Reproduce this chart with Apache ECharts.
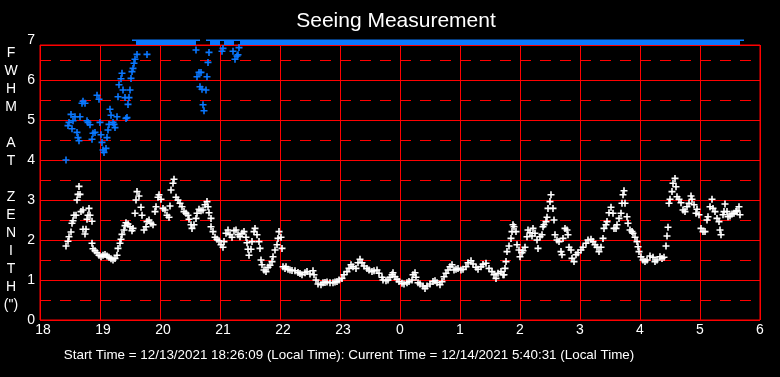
<!DOCTYPE html>
<html>
<head>
<meta charset="utf-8">
<title>Seeing Measurement</title>
<script src="https://cdn.jsdelivr.net/npm/echarts@6/dist/echarts.min.js"></script>
<style>
    html, body { margin: 0; padding: 0; background: #000; }
    #chart { width: 780px; height: 377px; }
</style>
</head>
<body>
<div id="chart"></div>
<script>
// x = minutes after 18:00 local time, y = FWHM (arcsec)
var hourLabels = ['18', '19', '20', '21', '22', '23', '0', '1', '2', '3', '4', '5', '6'];
var yLabels = ['0', '1', '2', '3', '4', '5', '6', '7'];
var capValue = 7;

// white crosses
var seeing = [
    [26,1.85],[28,1.97],[29,2.08],[31,2.2],[32,2.42],[33,2.48],[34,2.62],[36,2.62],[37,3.0],[38,3.14],
    [39,3.34],[40,3.14],[41,2.71],[43,2.75],[43,2.27],[45,2.15],[46,2.27],[47,2.52],[48,2.62],[49,2.79],
    [50,2.62],[52,2.47],[52,1.92],[53,1.78],[55,1.73],[57,1.68],[59,1.62],[61,1.58],[63,1.62],[65,1.64],
    [67,1.6],[69,1.57],[71,1.53],[73,1.5],[75,1.54],[77,1.62],[78,1.79],[80,1.92],[81,2.02],[82,2.14],
    [84,2.25],[85,2.36],[86,2.43],[88,2.4],[90,2.33],[92,2.23],[93,2.29],[95,2.67],[96,3.0],[97,3.21],
    [99,3.1],[101,2.82],[102,2.62],[104,2.25],[106,2.33],[107,2.46],[109,2.5],[111,2.42],[113,2.38],[115,2.71],
    [116,2.83],[118,3.07],[119,3.13],[121,3.02],[123,2.79],[125,2.75],[127,2.62],[129,2.57],[130,2.85],[131,3.25],
    [133,3.42],[134,3.52],[136,3.07],[138,3.0],[140,2.92],[142,2.83],[144,2.71],[146,2.67],[148,2.62],[149,2.52],
    [151,2.38],[152,2.29],[154,2.38],[156,2.54],[157,2.67],[159,2.77],[161,2.73],[163,2.75],[165,2.88],[167,2.96],
    [168,2.83],[169,2.68],[171,2.54],[171,2.33],[173,2.21],[175,2.07],[177,2.02],[179,1.98],[181,1.88],[183,1.82],
    [184,1.96],[186,2.17],[188,2.25],[190,2.13],[192,2.07],[194,2.23],[196,2.25],[198,2.13],[200,2.08],[202,2.17],
    [204,2.21],[206,2.07],[207,1.93],[208,1.77],[209,1.62],[211,1.77],[212,1.96],[214,2.21],[215,2.29],[217,2.13],
    [219,1.96],[220,1.79],[221,1.5],[222,1.38],[224,1.25],[226,1.21],[228,1.32],[230,1.37],[232,1.46],[233,1.58],
    [235,1.75],[237,1.88],[238,2.04],[239,2.21],[241,2.07],[242,1.79],[243,1.33],[245,1.29],[246,1.33],[248,1.27],
    [250,1.25],[252,1.24],[255,1.23],[258,1.19],[260,1.16],[262,1.13],[265,1.18],[267,1.21],[270,1.15],[273,1.23],
    [274,1.13],[276,1.0],[278,0.9],[281,0.88],[283,0.93],[285,0.94],[287,0.95],[290,0.93],[293,0.93],[295,0.95],
    [297,0.96],[299,1.0],[302,1.04],[304,1.13],[307,1.21],[309,1.29],[311,1.38],[313,1.33],[316,1.29],[318,1.43],
    [320,1.52],[322,1.43],[324,1.35],[327,1.29],[329,1.25],[332,1.21],[334,1.23],[337,1.25],[339,1.17],[342,1.07],
    [343,1.0],[346,0.98],[348,1.0],[350,1.07],[352,1.13],[353,1.18],[355,1.08],[357,1.02],[359,0.96],[362,0.92],
    [364,0.9],[367,0.93],[369,0.96],[372,1.0],[373,1.13],[375,1.18],[376,1.07],[378,0.93],[380,0.9],[383,0.85],
    [385,0.79],[387,0.85],[390,0.9],[393,0.96],[395,0.98],[397,0.93],[400,0.88],[402,0.96],[404,1.08],[406,1.17],
    [408,1.25],[410,1.33],[412,1.38],[414,1.25],[416,1.27],[418,1.29],[421,1.25],[423,1.27],[426,1.33],[428,1.43],
    [431,1.48],[433,1.4],[436,1.32],[438,1.27],[441,1.33],[443,1.39],[446,1.42],[449,1.29],[452,1.21],[454,1.13],
    [456,1.04],[458,1.17],[461,1.21],[463,1.13],[464,1.13],[465,1.29],[466,1.46],[467,1.71],[469,1.85],[471,2.04],
    [472,2.21],[473,2.38],[474,2.33],[476,2.21],[477,1.88],[479,1.75],[480,1.58],[482,1.68],[483,1.73],[485,1.82],
    [487,2.08],[488,2.25],[490,2.18],[492,2.1],[493,2.29],[495,2.17],[497,2.0],[498,1.79],[500,2.08],[502,2.13],
    [503,2.33],[504,2.38],[506,2.46],[507,2.57],[508,2.79],[510,2.96],[511,3.13],[513,2.79],[514,2.5],[515,2.13],
    [517,2.0],[519,1.96],[521,1.71],[522,1.63],[523,2.04],[525,2.29],[527,2.25],[528,2.13],[529,1.82],[531,1.75],
    [532,1.54],[534,1.46],[536,1.63],[538,1.68],[541,1.75],[543,1.82],[546,1.92],[548,2.0],[551,2.02],[553,1.96],
    [555,1.88],[557,1.82],[559,1.71],[561,1.82],[563,2.04],[564,2.29],[566,2.38],[567,2.46],[569,2.68],[571,2.82],
    [573,2.67],[574,2.29],[576,2.29],[577,2.38],[579,2.54],[581,2.67],[582,2.92],[583,3.13],[584,3.23],[585,2.92],
    [587,2.58],[588,2.42],[590,2.25],[592,2.21],[593,2.17],[595,2.07],[597,1.96],[598,1.83],[599,1.71],[601,1.58],
    [603,1.5],[605,1.46],[607,1.5],[610,1.6],[613,1.57],[615,1.46],[617,1.5],[620,1.58],[622,1.54],[624,1.57],
    [626,1.85],[627,2.1],[628,2.32],[629,2.92],[630,3.02],[632,3.21],[633,3.42],[635,3.54],[636,3.33],[637,3.08],
    [639,3.02],[641,2.93],[643,2.75],[645,2.71],[647,2.83],[649,2.92],[651,3.1],[652,3.02],[654,2.88],[656,2.67],
    [657,2.77],[659,2.63],[661,2.29],[663,2.21],[665,2.21],[667,2.5],[668,2.58],[670,2.83],[672,3.02],[673,2.79],
    [675,2.71],[677,2.54],[679,2.46],[680,2.25],[681,2.13],[683,2.63],[684,2.71],[685,2.9],[687,2.71],[688,2.58],
    [690,2.6],[692,2.65],[694,2.67],[696,2.71],[697,2.73],[699,2.83],[700,2.63]
];

// blue crosses below the cap
var fwhm = [
    [26,4.0],[28,4.86],[29,4.94],[31,5.14],[32,4.78],[33,4.98],[35,5.08],[37,4.69],[38,4.56],[39,4.48],
    [40,5.08],[42,5.42],[43,5.47],[45,5.42],[47,4.98],[48,4.94],[50,4.88],[52,4.52],[53,4.67],[55,4.69],
    [57,5.62],[59,5.52],[60,4.94],[61,4.63],[62,4.44],[63,4.25],[64,4.19],[66,4.29],[67,4.56],[68,4.75],
    [69,4.89],[70,5.27],[71,5.12],[73,4.94],[74,4.89],[75,4.81],[77,5.08],[78,5.58],[79,5.88],[81,6.03],
    [82,6.17],[83,5.75],[85,5.56],[86,5.04],[87,5.06],[88,5.39],[89,5.56],[90,5.75],[91,6.04],[92,6.21],
    [93,6.29],[94,6.42],[95,6.52],[97,6.64],[107,6.64],
    [156,6.75],[157,6.08],[159,6.19],[160,5.83],[161,6.19],[162,5.77],[163,5.38],[164,5.23],[166,5.75],[167,6.08],
    [168,6.44],[169,6.69],[182,6.72],[183,6.79],[193,6.72],[195,6.52],[197,6.6],[198,6.63],[199,6.81]
];

// blue crosses pinned at the top of the scale
var fwhmCapped = [
    97,99,101,103,105,107,109,111,113,115,117,119,121,123,125,127,129,131,133,135,137,139,141,143,145,147,149,151,153,155,
    171,173,175,177,179,185,187,189,191,193,
    201,203,205,207,209,211,213,215,217,219,221,223,225,227,229,231,233,235,237,239,
    241,243,245,247,249,251,253,255,257,259,261,263,265,267,269,271,273,275,277,279,
    281,283,285,287,289,291,293,295,297,299,301,303,305,307,309,311,313,315,317,319,
    321,323,325,327,329,331,333,335,337,339,341,343,345,347,349,351,353,355,357,359,
    361,363,365,367,369,371,373,375,377,379,381,383,385,387,389,391,393,395,397,399,
    401,403,405,407,409,411,413,415,417,419,421,423,425,427,429,431,433,435,437,439,
    441,443,445,447,449,451,453,455,457,459,461,463,465,467,469,471,473,475,477,479,
    481,483,485,487,489,491,493,495,497,499,501,503,505,507,509,511,513,515,517,519,
    521,523,525,527,529,531,533,535,537,539,541,543,545,547,549,551,553,555,557,559,
    561,563,565,567,569,571,573,575,577,579,581,583,585,587,589,591,593,595,597,599,
    601,603,605,607,609,611,613,615,617,619,621,623,625,627,629,631,633,635,637,639,
    641,643,645,647,649,651,653,655,657,659,661,663,665,667,669,671,673,675,677,679,
    681,683,685,687,689,691,693,695,697,699
];

var FONT = '"Liberation Sans", Arial, sans-serif';
var PLUS = 'path://M0,3L6,3M3,0L3,6';

var chart = echarts.init(document.getElementById('chart'));

function crossSeries(data, color, size, lw) {
    return {
        type: 'scatter',
        data: data,
        symbol: PLUS,
        symbolSize: size,
        clip: false,
        silent: true,
        itemStyle: { color: color, borderColor: color, borderWidth: lw, opacity: 1 },
        emphasis: { disabled: true }
    };
}

var option = {
    backgroundColor: '#000',
    animation: false,
    grid: {
        left: 40, right: 20, top: 45, bottom: 57,
        show: true, borderColor: '#ff0000', borderWidth: 1, backgroundColor: 'transparent'
    },
    xAxis: {
        type: 'value', min: 0, max: 720, interval: 60,
        axisLine: { show: false }, axisTick: { show: false },
        splitLine: { lineStyle: { color: '#ff0000', width: 1 } },
        axisLabel: {
            color: '#fff', fontSize: 14, fontFamily: FONT, margin: 3,
            formatter: function (v) {
                var s = hourLabels[Math.round(v / 60)];
                return s.length > 1 ? '{w|' + s + '}' : s;
            },
            rich: { w: { color: '#fff', fontSize: 14, fontFamily: FONT, padding: [0, 0, 0, 6] } }
        }
    },
    yAxis: [{
        type: 'value', min: 0, max: 6.875, interval: 1,
        axisLine: { show: false }, axisTick: { show: false },
        splitLine: { lineStyle: { color: '#ff0000', width: 1 } },
        axisLabel: {
            color: '#fff', fontSize: 14, fontFamily: FONT, margin: 5, showMaxLabel: false,
            formatter: function (v) { return v % 1 === 0 ? yLabels[v] : ''; }
        }
    }, {
        type: 'value', min: 0, max: 6.875, interval: 0.5,
        axisLine: { show: false }, axisTick: { show: false }, axisLabel: { show: false },
        splitLine: { lineStyle: { color: '#ff0000', width: 1, type: [11, 9] } }
    }],
    series: [
        crossSeries(seeing, '#ffffff', 7, 1.6),
        crossSeries(fwhm, '#0a78ff', 7, 1.6),
        crossSeries(fwhmCapped.map(function (t) { return [t, capValue]; }), '#0a78ff', 10, 2)
    ]
};
chart.setOption(option);

// the cap row sits on the "7" line above the frame; the plot is cut off just above it
var capY = chart.convertToPixel({ yAxisIndex: 0 }, capValue);
var x0 = chart.convertToPixel({ xAxisIndex: 0 }, 0);
chart.setOption({
    graphic: [
        { type: 'rect', z: 50, shape: { x: x0, y: 0, width: 780 - x0, height: capY - 0.5 }, style: { fill: '#000' } },
        { type: 'text', z: 60, x: 396, y: 21,
          style: { text: 'Seeing Measurement', fill: '#fff', font: '21px ' + FONT, textAlign: 'center', textVerticalAlign: 'middle' } },
        { type: 'text', z: 60, x: x0 - 5, y: capY,
          style: { text: yLabels[7], fill: '#fff', font: '14px ' + FONT, textAlign: 'right', textVerticalAlign: 'middle' } },
        { type: 'text', z: 60, x: 11, y: 44,
          style: { text: 'F\nW\nH\nM\n\nA\nT\n\nZ\nE\nN\nI\nT\nH\n(")', fill: '#fff', font: '14px ' + FONT,
                   lineHeight: 18, textAlign: 'center', textVerticalAlign: 'top' } },
        { type: 'text', z: 60, x: 349, y: 355,
          style: { text: 'Start Time = 12/13/2021 18:26:09 (Local Time): Current Time = 12/14/2021 5:40:31 (Local Time)',
                   fill: '#fff', font: '13.4px ' + FONT, textAlign: 'center', textVerticalAlign: 'middle' } }
    ]
});
</script>
</body>
</html>
